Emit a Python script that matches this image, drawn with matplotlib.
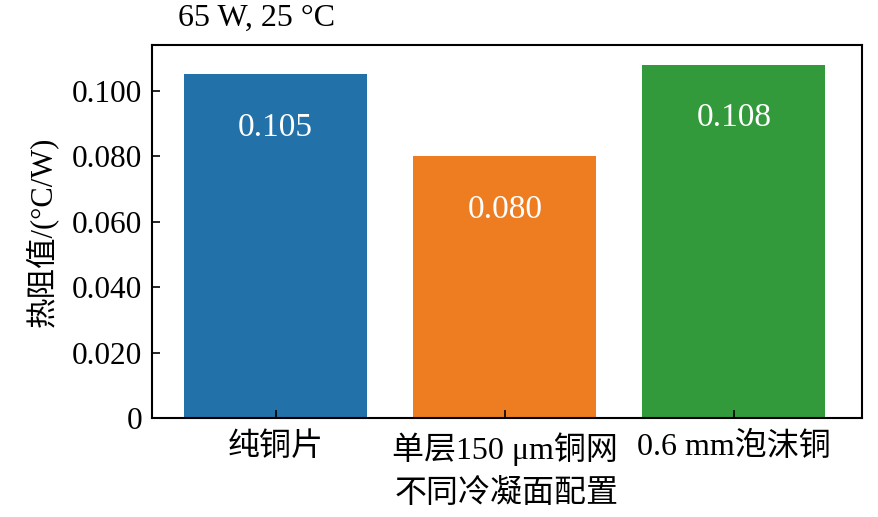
import matplotlib
matplotlib.use('Agg')
import matplotlib.pyplot as plt
from matplotlib.ticker import FuncFormatter

plt.rcParams['font.family'] = ['Liberation Serif', 'Noto Sans CJK SC', 'DejaVu Sans']
plt.rcParams['mathtext.fontset'] = 'stix'

categories = ["纯铜片", "单层150 μm铜网", "0.6 mm泡沫铜"]
values = [0.105, 0.080, 0.108]
labels = ["0.105", "0.080", "0.108"]
colors = ["#2271a9", "#ee7d22", "#329a3b"]
yticks = [0, 0.02, 0.04, 0.06, 0.08, 0.10]

fig = plt.figure(figsize=(8.79, 5.17), dpi=100)
ax = fig.add_axes([0.173, 0.1915, 0.8077, 0.7215])

x = list(range(len(categories)))
ax.bar(x, values, width=0.8, color=colors)
for xi, v, lab in zip(x, values, labels):
    ax.text(xi, v - 0.0163, lab, ha="center", va="center", color="white", fontsize=24)

ax.set_xlim(-0.54, 2.56)
ax.set_ylim(0, 0.114)
ax.set_xticks(x)
ax.set_xticklabels(categories)
ax.set_yticks(yticks)
ax.yaxis.set_major_formatter(FuncFormatter(lambda v, p: "0" if v == 0 else f"{v:.3f}"))
ax.tick_params(direction="in", length=6, width=1.2)
ax.tick_params(axis="y", labelsize=22.5, pad=7)
ax.tick_params(axis="x", labelsize=23, pad=10)
for s in ax.spines.values():
    s.set_linewidth(1.5)

ax.set_xlabel("不同冷凝面配置", fontsize=23, labelpad=10)
ax.set_ylabel("热阻值/(°C/W)", fontsize=22, labelpad=10)
fig.text(0.202, 0.965, "65 W, 25 °C", ha="left", va="center", fontsize=23)

fig.savefig("out.png", dpi=100)
plt.close()
